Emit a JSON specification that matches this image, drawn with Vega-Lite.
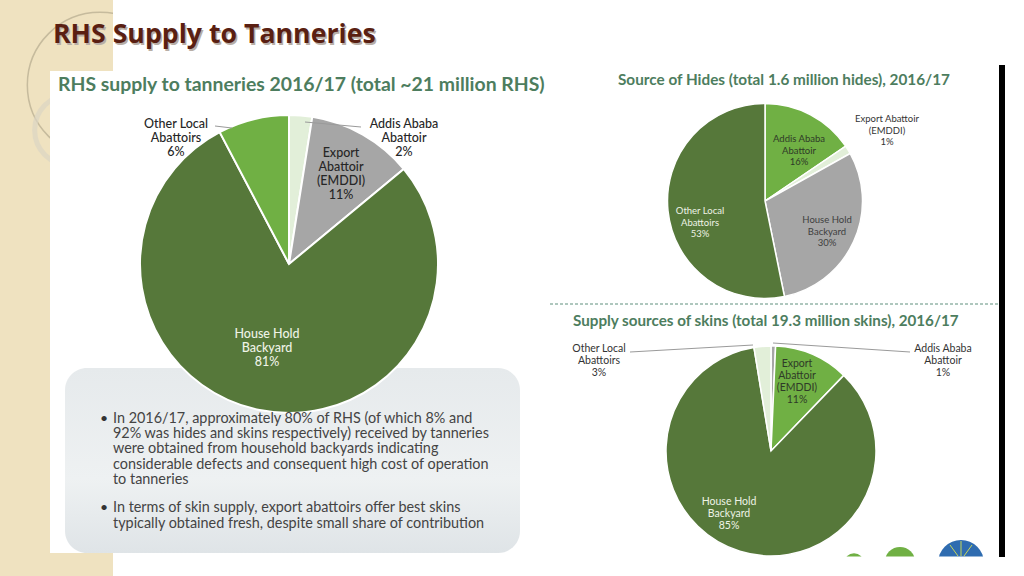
{
"$schema":"https://vega.github.io/schema/vega-lite/v6.json",
"autosize":{"type":"none"},"width":1024,"height":576,"padding":0,"background":"white",
"config":{"view":{"stroke":null},"axis":{"disable":true},"text":{"font":"Lato","lineBreak":"\n"}},
"resolve":{"scale":{"color":"independent"}},
"datasets":{
"slices":[
{"pie":"rhs","rank":1,"source":"Addis Ababa Abattoir","share":2.5,"label":"Addis Ababa\nAbattoir\n2%"},
{"pie":"rhs","rank":2,"source":"Export Abattoir (EMDDI)","share":11.5,"label":"Export\nAbattoir\n(EMDDI)\n11%"},
{"pie":"rhs","rank":3,"source":"House Hold Backyard","share":78.3,"label":"House Hold\nBackyard\n81%"},
{"pie":"rhs","rank":4,"source":"Other Local Abattoirs","share":7.7,"label":"Other Local\nAbattoirs\n6%"},
{"pie":"hides","rank":1,"source":"Addis Ababa Abattoir","share":15.5,"label":"Addis Ababa\nAbattoir\n16%"},
{"pie":"hides","rank":2,"source":"Export Abattoir (EMDDI)","share":1.4,"label":"Export Abattoir\n(EMDDI)\n1%"},
{"pie":"hides","rank":3,"source":"House Hold Backyard","share":29.9,"label":"House Hold\nBackyard\n30%"},
{"pie":"hides","rank":4,"source":"Other Local Abattoirs","share":53.2,"label":"Other Local\nAbattoirs\n53%"},
{"pie":"skins","rank":1,"source":"Addis Ababa Abattoir","share":0.7,"label":"Addis Ababa\nAbattoir\n1%"},
{"pie":"skins","rank":2,"source":"Export Abattoir (EMDDI)","share":11.5,"label":"Export\nAbattoir\n(EMDDI)\n11%"},
{"pie":"skins","rank":3,"source":"House Hold Backyard","share":85.2,"label":"House Hold\nBackyard\n85%"},
{"pie":"skins","rank":4,"source":"Other Local Abattoirs","share":2.6,"label":"Other Local\nAbattoirs\n3%"}
]},
"layer":[
{"data":{"values":[{"part":"strip"}]},"mark":{"type":"rect","fill":"#efe2c0"},"encoding":{
"x":{"datum":0,"scale":{"domain":[0,1024],"nice":false,"zero":false}},"x2":{"datum":113},
"y":{"datum":0,"scale":{"domain":[576,0],"nice":false,"zero":false}},"y2":{"datum":576}}},
{"data":{"values":[{"part":"swirl"}]},"mark":{"type":"point","filled":false,"stroke":"#b5ab8f","strokeWidth":1.5,"size":21124},"encoding":{"x":{"datum":100},"y":{"datum":85}}},
{"data":{"values":[{"part":"ring"}]},"mark":{"type":"point","filled":false,"stroke":"#dcd6c4","strokeWidth":5,"size":5000},"encoding":{"x":{"datum":70},"y":{"datum":130}}},
{"data":{"values":[{"part":"top"}]},"mark":{"type":"rect","fill":"white"},"encoding":{"x":{"datum":113},"x2":{"datum":1024},"y":{"datum":0},"y2":{"datum":71}}},
{"data":{"values":[{"part":"sheet"}]},"mark":{"type":"rect","fill":"white"},"encoding":{"x":{"datum":50},"x2":{"datum":1024},"y":{"datum":71},"y2":{"datum":553}}},
{"data":{"values":[{"part":"side"}]},"mark":{"type":"rect","fill":"white"},"encoding":{"x":{"datum":113},"x2":{"datum":1024},"y":{"datum":553},"y2":{"datum":576}}},
{"data":{"values":[{"part":"panel"}]},"mark":{"type":"rect","cornerRadius":22,"fill":{"gradient":"linear","x1":0,"y1":0,"x2":0,"y2":1,"stops":[{"offset":0,"color":"#e6eaec"},{"offset":0.6,"color":"#eef1f2"},{"offset":1,"color":"#dfe4e7"}]}},"encoding":{"x":{"datum":65},"x2":{"datum":520},"y":{"datum":368},"y2":{"datum":553}}},

{"data":{"name":"slices"},"transform":[{"filter":"datum.pie=='rhs'"}],"mark":{"type":"arc","outerRadius":149,"stroke":"white","strokeWidth":2},"encoding":{
"x":{"datum":289},"y":{"datum":264},"theta":{"field":"share","type":"quantitative","stack":true,"scale":{"domain":[0,100]}},"order":{"field":"rank"},
"color":{"field":"source","legend":null,"scale":{"domain":["Addis Ababa Abattoir","Export Abattoir (EMDDI)","House Hold Backyard","Other Local Abattoirs"],"range":["#e2efd9","#a6a6a6","#56783a","#70b044"]}}}},
{"data":{"name":"slices"},"transform":[{"filter":"datum.pie=='hides'"}],"mark":{"type":"arc","outerRadius":97.5,"stroke":"white","strokeWidth":1.5},"encoding":{
"x":{"datum":765},"y":{"datum":201},"theta":{"field":"share","type":"quantitative","stack":true,"scale":{"domain":[0,100]}},"order":{"field":"rank"},
"color":{"field":"source","legend":null,"scale":{"domain":["Addis Ababa Abattoir","Export Abattoir (EMDDI)","House Hold Backyard","Other Local Abattoirs"],"range":["#70b044","#e2efd9","#a6a6a6","#56783a"]}}}},
{"data":{"name":"slices"},"transform":[{"filter":"datum.pie=='skins'"}],"mark":{"type":"arc","outerRadius":105,"stroke":"white","strokeWidth":1.5},"encoding":{
"x":{"datum":771},"y":{"datum":451},"theta":{"field":"share","type":"quantitative","stack":true,"scale":{"domain":[0,100]}},"order":{"field":"rank"},
"color":{"field":"source","legend":null,"scale":{"domain":["Addis Ababa Abattoir","Export Abattoir (EMDDI)","House Hold Backyard","Other Local Abattoirs"],"range":["#a6a6a6","#70b044","#56783a","#e2efd9"]}}}},

{"data":{"values":[{"part":"foot"}]},"mark":{"type":"point","filled":true,"opacity":1,"fill":"#70b044","size":380},"encoding":{"x":{"datum":854},"y":{"datum":563}}},
{"data":{"values":[{"part":"foot"}]},"mark":{"type":"point","filled":true,"opacity":1,"fill":"#70b044","size":908},"encoding":{"x":{"datum":900},"y":{"datum":562}}},
{"data":{"values":[{"part":"foot"}]},"mark":{"type":"point","filled":true,"opacity":1,"fill":"#2f6cb0","size":2124},"encoding":{"x":{"datum":961},"y":{"datum":563}}},
{"data":{"values":[{"part":"ray"}]},"mark":{"type":"rule","stroke":"#c7d65a","strokeWidth":1},"encoding":{"x":{"datum":961},"x2":{"datum":961},"y":{"datum":541},"y2":{"datum":556}}},
{"data":{"values":[{"part":"ray"}]},"mark":{"type":"rule","stroke":"#c7d65a","strokeWidth":1},"encoding":{"x":{"datum":950},"x2":{"datum":958},"y":{"datum":545},"y2":{"datum":556}}},
{"data":{"values":[{"part":"ray"}]},"mark":{"type":"rule","stroke":"#c7d65a","strokeWidth":1},"encoding":{"x":{"datum":972},"x2":{"datum":964},"y":{"datum":545},"y2":{"datum":556}}},
{"data":{"values":[{"part":"base"}]},"mark":{"type":"rect","fill":"white"},"encoding":{"x":{"datum":540},"x2":{"datum":1024},"y":{"datum":556.5},"y2":{"datum":576}}},
{"data":{"values":[{"part":"bar"}]},"mark":{"type":"rect","fill":"black"},"encoding":{"x":{"datum":999},"x2":{"datum":1005},"y":{"datum":65},"y2":{"datum":557}}},
{"data":{"values":[{"part":"divider"}]},"mark":{"type":"rule","stroke":"#5f8f7c","strokeWidth":1,"strokeDash":[3,2]},"encoding":{"x":{"datum":550},"x2":{"datum":999},"y":{"datum":304}}},
{"data":{"values":[{"part":"leader"}]},"mark":{"type":"rule","stroke":"#9a9a9a","strokeWidth":1},"encoding":{"x":{"datum":215},"x2":{"datum":232},"y":{"datum":126},"y2":{"datum":128}}},
{"data":{"values":[{"part":"leader"}]},"mark":{"type":"rule","stroke":"#9a9a9a","strokeWidth":1},"encoding":{"x":{"datum":305},"x2":{"datum":361},"y":{"datum":122},"y2":{"datum":127}}},
{"data":{"values":[{"part":"leader"}]},"mark":{"type":"rule","stroke":"#9a9a9a","strokeWidth":1},"encoding":{"x":{"datum":630},"x2":{"datum":753},"y":{"datum":352},"y2":{"datum":345}}},
{"data":{"values":[{"part":"leader"}]},"mark":{"type":"rule","stroke":"#9a9a9a","strokeWidth":1},"encoding":{"x":{"datum":773},"x2":{"datum":910},"y":{"datum":343},"y2":{"datum":352}}},

{"data":{"name":"slices"},"transform":[{"filter":"datum.pie=='rhs'&&datum.rank==4"}],"mark":{"type":"text","fontSize":12.5,"fontWeight":500,"lineHeight":14,"fill":"#262626"},"encoding":{"x":{"datum":176},"y":{"datum":124},"text":{"field":"label"}}},
{"data":{"name":"slices"},"transform":[{"filter":"datum.pie=='rhs'&&datum.rank==1"}],"mark":{"type":"text","fontSize":12.5,"fontWeight":500,"lineHeight":14,"fill":"#262626"},"encoding":{"x":{"datum":404},"y":{"datum":124},"text":{"field":"label"}}},
{"data":{"name":"slices"},"transform":[{"filter":"datum.pie=='rhs'&&datum.rank==2"}],"mark":{"type":"text","fontSize":12.5,"fontWeight":500,"lineHeight":14,"fill":"#262626"},"encoding":{"x":{"datum":341},"y":{"datum":153},"text":{"field":"label"}}},
{"data":{"name":"slices"},"transform":[{"filter":"datum.pie=='rhs'&&datum.rank==3"}],"mark":{"type":"text","fontSize":12.5,"fontWeight":500,"lineHeight":14,"fill":"#eef3e6"},"encoding":{"x":{"datum":267},"y":{"datum":334},"text":{"field":"label"}}},
{"data":{"name":"slices"},"transform":[{"filter":"datum.pie=='hides'&&datum.rank==1"}],"mark":{"type":"text","fontSize":9.5,"lineHeight":11.5,"fill":"#2f3a28"},"encoding":{"x":{"datum":799},"y":{"datum":139},"text":{"field":"label"}}},
{"data":{"name":"slices"},"transform":[{"filter":"datum.pie=='hides'&&datum.rank==2"}],"mark":{"type":"text","fontSize":9.5,"lineHeight":11.5,"fill":"#333333"},"encoding":{"x":{"datum":887},"y":{"datum":119},"text":{"field":"label"}}},
{"data":{"name":"slices"},"transform":[{"filter":"datum.pie=='hides'&&datum.rank==3"}],"mark":{"type":"text","fontSize":9.5,"lineHeight":11.5,"fill":"#404040"},"encoding":{"x":{"datum":827},"y":{"datum":220},"text":{"field":"label"}}},
{"data":{"name":"slices"},"transform":[{"filter":"datum.pie=='hides'&&datum.rank==4"}],"mark":{"type":"text","fontSize":9.5,"lineHeight":11.5,"fill":"#eef3e6"},"encoding":{"x":{"datum":700},"y":{"datum":211},"text":{"field":"label"}}},
{"data":{"name":"slices"},"transform":[{"filter":"datum.pie=='skins'&&datum.rank==1"}],"mark":{"type":"text","fontSize":10.5,"lineHeight":12,"fill":"#333333"},"encoding":{"x":{"datum":943},"y":{"datum":348.5},"text":{"field":"label"}}},
{"data":{"name":"slices"},"transform":[{"filter":"datum.pie=='skins'&&datum.rank==2"}],"mark":{"type":"text","fontSize":10.5,"lineHeight":12,"fill":"#2f3a28"},"encoding":{"x":{"datum":797},"y":{"datum":364},"text":{"field":"label"}}},
{"data":{"name":"slices"},"transform":[{"filter":"datum.pie=='skins'&&datum.rank==3"}],"mark":{"type":"text","fontSize":10.5,"lineHeight":12,"fill":"#eef3e6"},"encoding":{"x":{"datum":729},"y":{"datum":502},"text":{"field":"label"}}},
{"data":{"name":"slices"},"transform":[{"filter":"datum.pie=='skins'&&datum.rank==4"}],"mark":{"type":"text","fontSize":10.5,"lineHeight":12,"fill":"#333333"},"encoding":{"x":{"datum":599},"y":{"datum":348.5},"text":{"field":"label"}}},

{"data":{"values":[{"t":"RHS Supply to Tanneries"}]},"mark":{"type":"text","font":"Open Sans","fontSize":26.7,"fontWeight":"bold","align":"left","fill":"#b8aea6","dx":1.5,"dy":1.5},"encoding":{"x":{"datum":53},"y":{"datum":35},"text":{"field":"t"}}},
{"data":{"values":[{"t":"RHS Supply to Tanneries"}]},"mark":{"type":"text","font":"Open Sans","fontSize":26.7,"fontWeight":"bold","align":"left","fill":"#5a1f12"},"encoding":{"x":{"datum":53},"y":{"datum":35},"text":{"field":"t"}}},
{"data":{"values":[{"t":"RHS supply to tanneries 2016/17 (total ~21 million RHS)"}]},"mark":{"type":"text","fontSize":19.4,"fontWeight":"bold","align":"left","fill":"#4d7d5e"},"encoding":{"x":{"datum":58},"y":{"datum":85},"text":{"field":"t"}}},
{"data":{"values":[{"t":"Source of Hides (total 1.6 million hides), 2016/17"}]},"mark":{"type":"text","fontSize":15.3,"fontWeight":"bold","align":"left","fill":"#4d7d5e"},"encoding":{"x":{"datum":618},"y":{"datum":80},"text":{"field":"t"}}},
{"data":{"values":[{"t":"Supply sources of skins (total 19.3 million skins), 2016/17"}]},"mark":{"type":"text","fontSize":15.2,"fontWeight":"bold","align":"left","fill":"#4d7d5e"},"encoding":{"x":{"datum":573},"y":{"datum":321},"text":{"field":"t"}}},
{"data":{"values":[{"t":"•"}]},"mark":{"type":"text","fontSize":14,"align":"left","fill":"#333333"},"encoding":{"x":{"datum":100},"y":{"datum":419},"text":{"field":"t"}}},
{"data":{"values":[{"t":"•"}]},"mark":{"type":"text","fontSize":14,"align":"left","fill":"#333333"},"encoding":{"x":{"datum":100},"y":{"datum":508},"text":{"field":"t"}}},
{"data":{"values":[{"t":"In 2016/17, approximately 80% of RHS (of which 8%  and\n92% was hides and skins respectively) received by tanneries\nwere obtained from household backyards indicating\nconsiderable defects and consequent high cost of operation\nto tanneries"}]},"mark":{"type":"text","fontSize":14.4,"lineHeight":15.2,"align":"left","fill":"#444444"},"encoding":{"x":{"datum":113},"y":{"datum":419},"text":{"field":"t"}}},
{"data":{"values":[{"t":"In terms of skin supply, export abattoirs offer best skins\ntypically obtained fresh, despite small share of contribution"}]},"mark":{"type":"text","fontSize":14.4,"lineHeight":15.5,"align":"left","fill":"#444444"},"encoding":{"x":{"datum":113},"y":{"datum":508},"text":{"field":"t"}}}
]
}
